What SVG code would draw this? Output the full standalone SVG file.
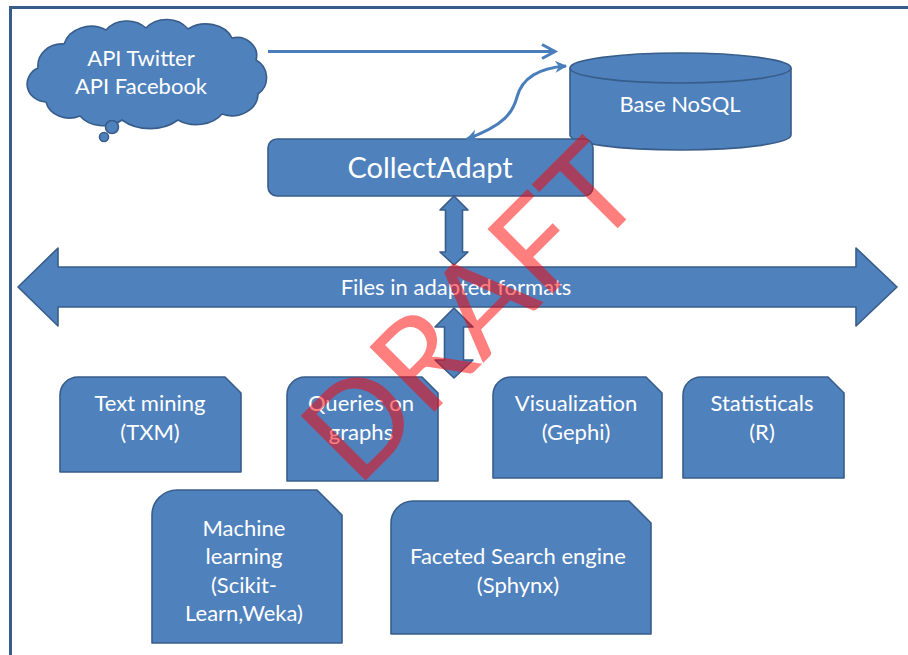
<svg xmlns="http://www.w3.org/2000/svg" width="908" height="655" viewBox="0 0 908 655">
<defs>
<style>
.shape{fill:#4F81BD;stroke:#385D8A;stroke-width:1.6;stroke-linejoin:round}
.t{font-family:Lato,"Liberation Sans",sans-serif;fill:#FFFFFF;text-anchor:middle;font-size:22px}
.line{fill:none;stroke:#4A7EBB;stroke-width:3}
.frame{fill:none;stroke:#385D8A;stroke-width:3}
</style>
<marker id="stealth" viewBox="0 0 10 10" refX="9" refY="5" markerWidth="14" markerHeight="12" markerUnits="userSpaceOnUse" orient="auto-start-reverse">
<path d="M0,0 L10,5 L0,10 L3,5 Z" fill="#4A7EBB"/>
</marker>
</defs>
<rect x="0" y="0" width="908" height="655" fill="#FFFFFF"/>
<path class="frame" d="M908,7.5 H10.5 V655"/>

<g id="cloud">
<path class="shape" d="M46,102 A20,18 0 0 1 38,68 A24,22 0 0 1 64,44 A28,24 0 0 1 106,30 A26,22 0 0 1 146,28 A26,22 0 0 1 188,29 A28,22 0 0 1 232,38 A20,18 0 0 1 256,60 A20,20 0 0 1 258,94 A26,22 0 0 1 222,114 A30,22 0 0 1 178,120 A40,30 0 0 1 122,120 A28,22 0 0 1 80,116 A24,20 0 0 1 46,102 Z"/>
<circle class="shape" cx="112" cy="127" r="6.5"/>
<circle class="shape" cx="104" cy="137" r="4.5"/>
<text class="t" x="141" y="66">API Twitter</text>
<text class="t" x="141" y="94">API Facebook</text>
</g>

<g id="nosql">
<path class="shape" d="M570,68 V135 A110.5,15 0 0 0 791,135 V68"/>
<ellipse class="shape" cx="680.5" cy="68" rx="110.5" ry="15"/>
<text class="t" x="680" y="112">Base NoSQL</text>
</g>

<g id="collectadapt">
<rect class="shape" x="268" y="139" width="325" height="57" rx="9"/>
<text class="t" x="430" y="178" style="font-size:29px">CollectAdapt</text>
</g>

<g id="files">
<path class="shape" d="M18,287 L58,248 L58,267 L856,267 L856,248 L897,287 L856,326 L856,307 L58,307 L58,326 Z"/>
<text class="t" x="456" y="295">Files in adapted formats</text>
</g>

<g id="textmining">
<path class="shape" d="M60,472 V395 A18,18 0 0 1 78,377 H225 L241,393 V472 Z"/>
<text class="t" x="150" y="411">Text mining</text>
<text class="t" x="150" y="440">(TXM)</text>
</g>

<g id="queries">
<path class="shape" d="M287,481 V395 A18,18 0 0 1 305,377 H422 L438,393 V481 Z"/>
<text class="t" x="361" y="411">Queries on</text>
<text class="t" x="361" y="440">graphs</text>
</g>

<g id="visualization">
<path class="shape" d="M493,478 V395 A18,18 0 0 1 511,377 H646 L662,393 V478 Z"/>
<text class="t" x="576" y="411">Visualization</text>
<text class="t" x="576" y="440">(Gephi)</text>
</g>

<g id="statisticals">
<path class="shape" d="M683,478 V395 A18,18 0 0 1 701,377 H828 L844,393 V478 Z"/>
<text class="t" x="762" y="411">Statisticals</text>
<text class="t" x="762" y="440">(R)</text>
</g>

<g id="machinelearning">
<path class="shape" d="M152,643 V515 A25,25 0 0 1 177,490 H317 L342,515 V643 Z"/>
<text class="t" x="244" y="536">Machine</text>
<text class="t" x="244" y="564">learning</text>
<text class="t" x="244" y="593">(Scikit-</text>
<text class="t" x="244" y="621">Learn,Weka)</text>
</g>

<g id="faceted">
<path class="shape" d="M391,634 V523 A22,22 0 0 1 413,501 H629 L651,523 V634 Z"/>
<text class="t" x="518" y="564">Faceted Search engine</text>
<text class="t" x="518" y="593">(Sphynx)</text>
</g>

<g id="connectors">
<path class="line" d="M268,51.5 H554"/>
<path class="line" d="M542,44.5 L555,51.5 L542,58.5" stroke-linejoin="miter"/>
<path class="line" d="M467,139 C505,125 513,112 517,97 C522,78 538,68 566,66" marker-start="url(#stealth)" marker-end="url(#stealth)"/>
<path class="shape" d="M454,196 L468,210 L462.5,210 L462.5,252 L468,252 L454,265 L440,252 L445.5,252 L445.5,210 L440,210 Z"/>
<path class="shape" d="M454,308 L473,327 L463.5,327 L463.5,360 L473,360 L454,378 L435,360 L444.5,360 L444.5,327 L435,327 Z"/>
</g>

<text x="503" y="343" transform="rotate(-45 503 343)" style="font-family:Lato,'Liberation Sans',sans-serif;font-size:128px;fill:#FF0000;fill-opacity:0.5;text-anchor:middle">DRAFT</text>
</svg>
